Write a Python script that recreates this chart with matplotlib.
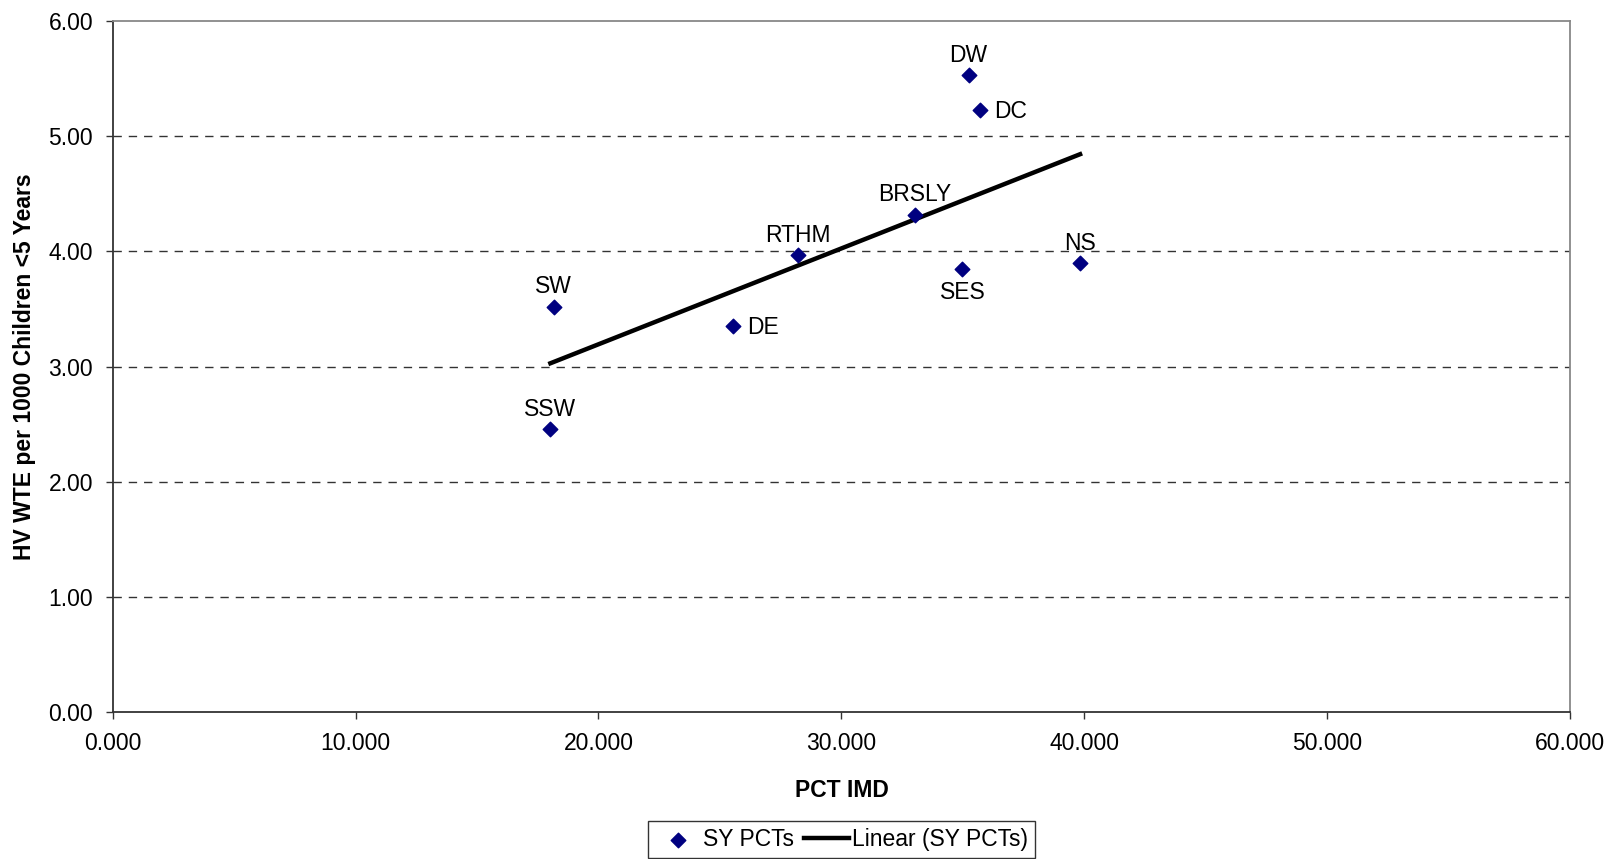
import numpy as np
import matplotlib
matplotlib.use("Agg")
import matplotlib.pyplot as plt

plt.rcParams['font.family'] = ['Liberation Sans', 'DejaVu Sans']

names = ["DW", "DC", "BRSLY", "RTHM", "SES", "NS", "SW", "DE", "SSW"]
imd = [35.23, 35.70, 33.02, 28.22, 34.98, 39.82, 18.15, 25.54, 18.02]
hv = [5.53, 5.23, 4.32, 3.97, 3.85, 3.90, 3.52, 3.35, 2.46]
label_pos = ["above", "right", "above", "above", "below", "above", "above", "right", "above"]

x_ticks = [0, 10, 20, 30, 40, 50, 60]
y_ticks = [0, 1, 2, 3, 4, 5, 6]

FS = 16.5

fig = plt.figure(figsize=(16.19, 8.59), dpi=100)
ax = fig.add_axes([0.0695, 0.1706, 0.9005, 0.805])

x = np.array(imd)
y = np.array(hv)
m, b = np.polyfit(x, y, 1)
xl = np.array([x.min(), x.max()])

ax.scatter(x, y, marker='D', s=55, color='#000080', zorder=3, label='SY PCTs')
ax.plot(xl, m * xl + b, color='black', lw=3.2, zorder=2, label='Linear (SY PCTs)')

for n, xi, yi, p in zip(names, imd, hv, label_pos):
    if p == "above":
        ax.annotate(n, (xi, yi), xytext=(0, 6), textcoords='offset points',
                    ha='center', va='bottom', fontsize=FS)
    elif p == "below":
        ax.annotate(n, (xi, yi), xytext=(0, -9), textcoords='offset points',
                    ha='center', va='top', fontsize=FS)
    else:
        ax.annotate(n, (xi, yi), xytext=(10, -1), textcoords='offset points',
                    ha='left', va='center', fontsize=FS)

ax.set_xlim(0, 60)
ax.set_ylim(0, 6)
ax.set_xticks(x_ticks)
ax.set_xticklabels([f"{v:.3f}" for v in x_ticks])
ax.set_yticks(y_ticks)
ax.set_yticklabels([f"{v:.2f}" for v in y_ticks])
ax.tick_params(direction='out', length=5, width=1, labelsize=FS, color='#333333', pad=9)

for yv in y_ticks[1:-1]:
    ax.axhline(yv, color='#333333', lw=1, ls=(0, (6, 5)), zorder=1)

ax.spines['left'].set_color('#333333')
ax.spines['bottom'].set_color('#333333')
ax.spines['top'].set_color('#888888')
ax.spines['right'].set_color('#888888')
for s in ax.spines.values():
    s.set_linewidth(1.3)

ax.set_xlabel("PCT IMD", fontsize=FS, fontweight='bold', labelpad=17)
ax.set_ylabel("HV WTE per 1000 Children <5 Years", fontsize=FS, fontweight='bold', labelpad=9)

leg = ax.legend(loc='upper center', bbox_to_anchor=(0.5, -0.141), ncol=2, frameon=True,
                fancybox=False, fontsize=FS, handlelength=2.0, columnspacing=0.4,
                handletextpad=0.12, borderpad=0.3)
leg.get_frame().set_edgecolor('black')
leg.get_frame().set_linewidth(1)

fig.savefig("out.png", dpi=100)
